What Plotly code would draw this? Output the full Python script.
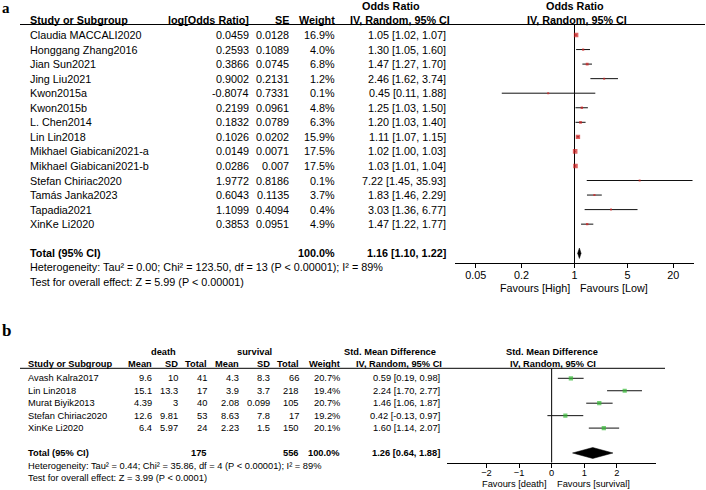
import plotly.graph_objects as go

W, H = 706, 490
FONT = "Liberation Sans, Arial, sans-serif"

# ---------------- data: panel a ----------------
a_names = ["Claudia MACCALI2020", "Honggang Zhang2016", "Jian Sun2021", "Jing Liu2021",
           "Kwon2015a", "Kwon2015b", "L. Chen2014", "Lin Lin2018",
           "Mikhael Giabicani2021-a", "Mikhael Giabicani2021-b", "Stefan Chiriac2020",
           "Tamás Janka2023", "Tapadia2021", "XinKe Li2020"]
a_logor = ["0.0459", "0.2593", "0.3866", "0.9002", "-0.8074", "0.2199", "0.1832", "0.1026",
           "0.0149", "0.0286", "1.9772", "0.6043", "1.1099", "0.3853"]
a_se = ["0.0128", "0.1089", "0.0745", "0.2131", "0.7331", "0.0961", "0.0789", "0.0202",
        "0.0071", "0.007", "0.8186", "0.1135", "0.4094", "0.0951"]
a_weight = [16.9, 4.0, 6.8, 1.2, 0.1, 4.8, 6.3, 15.9, 17.5, 17.5, 0.1, 3.7, 0.4, 4.9]
a_or = [1.05, 1.30, 1.47, 2.46, 0.45, 1.25, 1.20, 1.11, 1.02, 1.03, 7.22, 1.83, 3.03, 1.47]
a_lo = [1.02, 1.05, 1.27, 1.62, 0.11, 1.03, 1.03, 1.07, 1.00, 1.01, 1.45, 1.46, 1.36, 1.22]
a_hi = [1.07, 1.60, 1.70, 3.74, 1.88, 1.50, 1.40, 1.15, 1.03, 1.04, 35.93, 2.29, 6.77, 1.77]
a_total = (1.16, 1.10, 1.22)
a_total_weight = 100.0
a_ticks = [0.05, 0.2, 1, 5, 20]
a_ticktext = ["0.05", "0.2", "1", "5", "20"]
a_het = "Heterogeneity: Tau² = 0.00; Chi² = 123.50, df = 13 (P < 0.00001); I² = 89%"
a_test = "Test for overall effect: Z = 5.99 (P < 0.00001)"

# ---------------- data: panel b ----------------
b_names = ["Avash Kalra2017", "Lin Lin2018", "Murat Biyik2013", "Stefan Chiriac2020", "XinKe Li2020"]
b_d_mean = ["9.6", "15.1", "4.39", "12.6", "6.4"]
b_d_sd = ["10", "13.3", "3", "9.81", "5.97"]
b_d_n = [41, 17, 40, 53, 24]
b_s_mean = ["4.3", "3.9", "2.08", "8.63", "2.23"]
b_s_sd = ["8.3", "3.7", "0.099", "7.8", "1.5"]
b_s_n = [66, 218, 105, 17, 150]
b_weight = [20.7, 19.4, 20.7, 19.2, 20.1]
b_smd = [0.59, 2.24, 1.46, 0.42, 1.60]
b_lo = [0.19, 1.70, 1.06, -0.13, 1.14]
b_hi = [0.98, 2.77, 1.87, 0.97, 2.07]
b_total = (1.26, 0.64, 1.88)
b_total_weight = 100.0
b_ticks = [-2, -1, 0, 1, 2]
b_het = "Heterogeneity: Tau² = 0.44; Chi² = 35.86, df = 4 (P < 0.00001); I² = 89%"
b_test = "Test for overall effect: Z = 3.99 (P < 0.0001)"

RED = "#d42020"
GREEN = "#35b935"

# ---------------- layout geometry (pixels) ----------------
A_ROW0, A_STEP = 35.0, 14.55
A_LINE_Y, A_AXIS_Y = 24.5, 263.3
A_X0, A_X1 = 455, 694
A_FS = 10.8

B_ROW0, B_STEP = 378.3, 12.45
B_LINE_Y, B_AXIS_Y = 368.3, 462.7
B_X0, B_X1 = 447.3, 656
B_FS = 9.3

def px(x):
    return x / W

def py(y):
    return 1 - y / H

annotations = []

def txt(s, x, y, anchor="left", size=A_FS, bold=False, family=FONT, yanchor="middle"):
    if bold:
        s = "<b>" + s + "</b>"
    annotations.append(dict(text=s, x=px(x), y=py(y), xref="paper", yref="paper",
                            xanchor=anchor, yanchor=yanchor, showarrow=False,
                            borderpad=0, borderwidth=0,
                            font=dict(family=family, size=size, color="black")))

fig = go.Figure()

# ---------------- panel a ----------------
na = len(a_names)
a_rows = list(range(na))
a_total_row = na + 1
a_ybot = (A_AXIS_Y - A_ROW0) / A_STEP
a_ytop = (A_LINE_Y - A_ROW0) / A_STEP

def arow_px(i):
    return A_ROW0 + i * A_STEP

# labels
txt("a", 2, 0, size=15, bold=True, family="Liberation Serif, Times New Roman, serif", yanchor="top")
txt("Odds Ratio", 391, 6, anchor="center", bold=True)
txt("Odds Ratio", 575, 6, anchor="center", bold=True)
txt("Study or Subgroup", 30, 19.5, bold=True)
txt("log[Odds Ratio]", 249, 19.5, anchor="right", bold=True)
txt("SE", 288.5, 19.5, anchor="right", bold=True)
txt("Weight", 334.5, 19.5, anchor="right", bold=True)
txt("IV, Random, 95% CI", 400, 19.5, anchor="center", bold=True)
txt("IV, Random, 95% CI", 576.5, 19.5, anchor="center", bold=True)

for i in a_rows:
    y = arow_px(i)
    txt(a_names[i], 30, y)
    txt(a_logor[i], 249, y, anchor="right")
    txt(a_se[i], 288.5, y, anchor="right")
    txt(f"{a_weight[i]:.1f}%", 334.5, y, anchor="right")
    txt(f"{a_or[i]:.2f} [{a_lo[i]:.2f}, {a_hi[i]:.2f}]", 445.5, y, anchor="right")

yt = arow_px(a_total_row)
txt("Total (95% CI)", 30, yt, bold=True)
txt(f"{a_total_weight:.1f}%", 334.5, yt, anchor="right", bold=True)
txt(f"{a_total[0]:.2f} [{a_total[1]:.2f}, {a_total[2]:.2f}]", 445.5, yt, anchor="right", bold=True)
txt(a_het, 30, 267.3)
txt(a_test, 30, 281.7)
txt("Favours [High]", 569.5, 287.7, anchor="right")
txt("Favours [Low]", 580, 287.7, anchor="left")

# reference line at OR = 1
fig.add_trace(go.Scatter(x=[1, 1], y=[a_ytop, a_ybot], mode="lines",
                         line=dict(color="black", width=1), xaxis="x", yaxis="y",
                         hoverinfo="skip", showlegend=False))
# CI lines
cx, cy = [], []
for i in a_rows:
    cx += [a_lo[i], a_hi[i], None]
    cy += [i, i, None]
fig.add_trace(go.Scatter(x=cx, y=cy, mode="lines", line=dict(color="#111", width=1),
                         xaxis="x", yaxis="y", showlegend=False, hoverinfo="skip"))
fig.add_trace(go.Scatter(x=a_or, y=a_rows, mode="markers",
                         marker=dict(symbol="square", color=RED,
                                     size=[max(2.0, 1.1 * w ** 0.5) for w in a_weight],
                                     line=dict(width=0)),
                         xaxis="x", yaxis="y", showlegend=False))
dh = 0.36
fig.add_trace(go.Scatter(x=[a_total[1], a_total[0], a_total[2], a_total[0], a_total[1]],
                         y=[a_total_row, a_total_row - dh, a_total_row, a_total_row + dh, a_total_row],
                         mode="lines", fill="toself", fillcolor="black",
                         line=dict(color="black", width=0.5),
                         xaxis="x", yaxis="y", showlegend=False))

# ---------------- panel b ----------------
nb = len(b_names)
b_rows = list(range(nb))
b_total_row = nb + 1
b_ybot = (B_AXIS_Y - B_ROW0) / B_STEP
b_ytop = (B_LINE_Y - B_ROW0) / B_STEP

def brow_px(i):
    return B_ROW0 + i * B_STEP

txt("b", 2, 340, size=17, bold=True, family="Liberation Serif, Times New Roman, serif", yanchor="bottom")
txt("death", 163.3, 351.7, anchor="center", size=B_FS, bold=True)
txt("survival", 254.3, 351.7, anchor="center", size=B_FS, bold=True)
txt("Std. Mean Difference", 389.7, 351.7, anchor="center", size=B_FS, bold=True)
txt("Std. Mean Difference", 552, 351.7, anchor="center", size=B_FS, bold=True)
hy = 364
txt("Study or Subgroup", 28, hy, size=B_FS, bold=True)
txt("Mean", 152, hy, anchor="right", size=B_FS, bold=True)
txt("SD", 178, hy, anchor="right", size=B_FS, bold=True)
txt("Total", 207, hy, anchor="right", size=B_FS, bold=True)
txt("Mean", 239, hy, anchor="right", size=B_FS, bold=True)
txt("SD", 270, hy, anchor="right", size=B_FS, bold=True)
txt("Total", 299, hy, anchor="right", size=B_FS, bold=True)
txt("Weight", 339.5, hy, anchor="right", size=B_FS, bold=True)
txt("IV, Random, 95% CI", 398.8, hy, anchor="center", size=B_FS, bold=True)
txt("IV, Random, 95% CI", 553, hy, anchor="center", size=B_FS, bold=True)

for i in b_rows:
    y = brow_px(i)
    txt(b_names[i], 28, y, size=B_FS)
    txt(b_d_mean[i], 152, y, anchor="right", size=B_FS)
    txt(b_d_sd[i], 178, y, anchor="right", size=B_FS)
    txt(str(b_d_n[i]), 207, y, anchor="right", size=B_FS)
    txt(b_s_mean[i], 239, y, anchor="right", size=B_FS)
    txt(b_s_sd[i], 270, y, anchor="right", size=B_FS)
    txt(str(b_s_n[i]), 299, y, anchor="right", size=B_FS)
    txt(f"{b_weight[i]:.1f}%", 339.5, y, anchor="right", size=B_FS)
    txt(f"{b_smd[i]:.2f} [{b_lo[i]:.2f}, {b_hi[i]:.2f}]", 439.5, y, anchor="right", size=B_FS)

yt = brow_px(b_total_row)
txt("Total (95% CI)", 28, yt, size=B_FS, bold=True)
txt(str(sum(b_d_n)), 207, yt, anchor="right", size=B_FS, bold=True)
txt(str(sum(b_s_n)), 299, yt, anchor="right", size=B_FS, bold=True)
txt(f"{b_total_weight:.1f}%", 339.5, yt, anchor="right", size=B_FS, bold=True)
txt(f"{b_total[0]:.2f} [{b_total[1]:.2f}, {b_total[2]:.2f}]", 439.5, yt, anchor="right", size=B_FS, bold=True)
txt(b_het, 28, 465.7, size=B_FS)
txt(b_test, 28, 478.3, size=B_FS)
txt("Favours [death]", 547, 483.8, anchor="right", size=B_FS)
txt("Favours [survival]", 557.3, 483.8, anchor="left", size=B_FS)

fig.add_trace(go.Scatter(x=[0, 0], y=[b_ytop, b_ybot], mode="lines",
                         line=dict(color="black", width=1), xaxis="x2", yaxis="y2",
                         hoverinfo="skip", showlegend=False))
cx, cy = [], []
for i in b_rows:
    cx += [b_lo[i], b_hi[i], None]
    cy += [i, i, None]
fig.add_trace(go.Scatter(x=cx, y=cy, mode="lines", line=dict(color="#111", width=1),
                         xaxis="x2", yaxis="y2", showlegend=False, hoverinfo="skip"))
fig.add_trace(go.Scatter(x=b_smd, y=b_rows, mode="markers",
                         marker=dict(symbol="square", color=GREEN,
                                     size=[0.95 * w ** 0.5 for w in b_weight],
                                     line=dict(width=0)),
                         xaxis="x2", yaxis="y2", showlegend=False))
dh = 0.44
fig.add_trace(go.Scatter(x=[b_total[1], b_total[0], b_total[2], b_total[0], b_total[1]],
                         y=[b_total_row, b_total_row - dh, b_total_row, b_total_row + dh, b_total_row],
                         mode="lines", fill="toself", fillcolor="black",
                         line=dict(color="black", width=0.5),
                         xaxis="x2", yaxis="y2", showlegend=False))

# header rules
shapes = [
    dict(type="line", xref="paper", yref="paper", x0=px(20), x1=px(705),
         y0=py(A_LINE_Y), y1=py(A_LINE_Y), line=dict(color="black", width=1)),
    dict(type="line", xref="paper", yref="paper", x0=px(20), x1=px(665),
         y0=py(B_LINE_Y), y1=py(B_LINE_Y), line=dict(color="black", width=1)),
]

fig.update_layout(
    width=W, height=H, margin=dict(l=0, r=0, t=0, b=0),
    paper_bgcolor="white", plot_bgcolor="rgba(0,0,0,0)",
    font=dict(family=FONT, color="black"),
    showlegend=False,
    annotations=annotations, shapes=shapes,
    xaxis=dict(type="log", domain=[px(A_X0), px(A_X1)], range=[-1.575, 1.575],
               tickvals=a_ticks, ticktext=a_ticktext, ticks="outside", ticklen=4,
               ticklabelstandoff=-2,
               tickcolor="black", showline=True, linecolor="black", linewidth=1,
               showgrid=False, zeroline=False, anchor="y",
               tickfont=dict(size=A_FS, family=FONT, color="black")),
    yaxis=dict(domain=[py(A_AXIS_Y), py(A_LINE_Y)], range=[a_ybot, a_ytop],
               visible=False, showgrid=False, zeroline=False),
    xaxis2=dict(domain=[px(B_X0), px(B_X1)], range=[-3.2, 3.2],
                tickvals=b_ticks, ticks="outside", ticklen=4,
                ticklabelstandoff=-3,
                tickcolor="black", showline=True, linecolor="black", linewidth=1,
                showgrid=False, zeroline=False, anchor="y2",
                tickfont=dict(size=B_FS, family=FONT, color="black")),
    yaxis2=dict(domain=[py(B_AXIS_Y), py(B_LINE_Y)], range=[b_ybot, b_ytop],
                visible=False, showgrid=False, zeroline=False),
)

fig.write_html("out.html")
